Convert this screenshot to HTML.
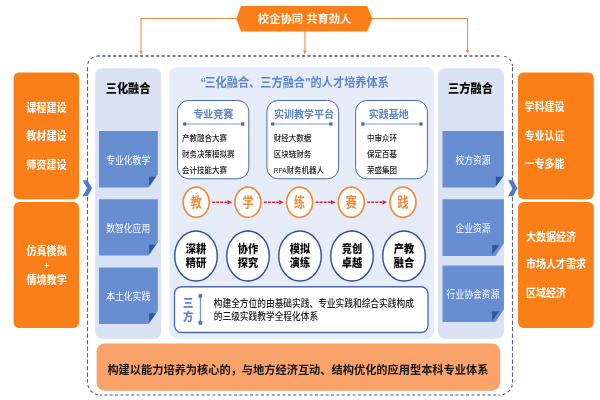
<!DOCTYPE html>
<html lang="zh-CN">
<head>
<meta charset="utf-8">
<title>校企协同 共育劲人</title>
<style>
html,body{margin:0;padding:0;background:#fff;}
body{width:600px;height:400px;overflow:hidden;}
svg{display:block;font-family:"Liberation Sans", "Noto Sans CJK SC", sans-serif;will-change:transform;}
</style>
</head>
<body>
<svg width="600" height="400" viewBox="0 0 600 400">
<rect width="600" height="400" fill="#ffffff"/>
<path d="M98.05 56 H501.95000000000005" fill="none" stroke="#4f5a8c" stroke-width="1.6" stroke-dasharray="3.1 2.3" stroke-dashoffset="1.2"/>
<path d="M100.05 395 H499.95000000000005" fill="none" stroke="#4f5a8c" stroke-width="1.1" stroke-dasharray="3.1 2.3" stroke-dashoffset="1.2"/>
<path d="M87.55 66 V382.5" fill="none" stroke="#4f5a8c" stroke-width="1.0" stroke-dasharray="4.4 2.1" stroke-dashoffset="-1"/>
<path d="M512.45 66 V382.5" fill="none" stroke="#4f5a8c" stroke-width="1.0" stroke-dasharray="4.4 2.1" stroke-dashoffset="-1"/>
<path d="M87.55 66 A10.5 10 0 0 1 98.05 56" fill="none" stroke="#4f5a8c" stroke-width="1.1" stroke-dasharray="2.9 2.9" stroke-dashoffset="-2.2"/>
<path d="M501.95000000000005 56 A10.5 10 0 0 1 512.45 66" fill="none" stroke="#4f5a8c" stroke-width="1.1" stroke-dasharray="2.9 2.9" stroke-dashoffset="-2.2"/>
<path d="M512.45 382.5 A12.5 12.5 0 0 1 499.95000000000005 395" fill="none" stroke="#4f5a8c" stroke-width="1.1" stroke-dasharray="2.9 2.9" stroke-dashoffset="-2.2"/>
<path d="M100.05 395 A12.5 12.5 0 0 1 87.55 382.5" fill="none" stroke="#4f5a8c" stroke-width="1.1" stroke-dasharray="2.9 2.9" stroke-dashoffset="-2.2"/>
<path d="M237 18.5 H140.4" fill="none" stroke="#ef8a44" stroke-width="1.2"/>
<path d="M141.0 18.5 V51.8" fill="none" stroke="#ef8a44" stroke-width="1.05"/>
<path d="M139.3 51.0 L141.0 54.8 L142.7 51.0 Z" fill="#ef8a44"/>
<path d="M372 18.5 H468.2" fill="none" stroke="#ef8a44" stroke-width="1.2"/>
<path d="M467.5 18.5 V50.8" fill="none" stroke="#ef8a44" stroke-width="1.05"/>
<path d="M465.8 50.0 L467.5 53.8 L469.2 50.0 Z" fill="#ef8a44"/>
<path d="M304.9 30 V51.6" fill="none" stroke="#ef8a44" stroke-width="1.05"/>
<path d="M303.2 50.800000000000004 L304.9 54.6 L306.59999999999997 50.800000000000004 Z" fill="#ef8a44"/>
<path d="M236.2 18.7 L241 6 H367.2 L372.6 18.7 L367.2 31.4 H241 Z" fill="#fa7f18"/>
<text transform="translate(304.6,18.9) scale(1,0.97)" y="3.96" font-size="11.3" fill="#fffaf4" font-weight="700" text-anchor="middle">校企协同 共育劲人</text>
<rect x="13.6" y="72.4" width="65.4" height="126.79999999999998" rx="5.5" ry="5.5" fill="#fa7f18"/>
<rect x="13.6" y="202.1" width="65.4" height="125.79999999999998" rx="5.5" ry="5.5" fill="#fa7f18"/>
<rect x="518" y="72.4" width="75.79999999999995" height="126.79999999999998" rx="5.5" ry="5.5" fill="#fa7f18"/>
<rect x="518" y="202.1" width="75.79999999999995" height="125.79999999999998" rx="5.5" ry="5.5" fill="#fa7f18"/>
<text transform="translate(46.4,108.0) scale(1,1.12)" y="3.53" font-size="10.1" fill="#fff" font-weight="700" text-anchor="middle">课程建设</text>
<text transform="translate(46.4,136.5) scale(1,1.12)" y="3.53" font-size="10.1" fill="#fff" font-weight="700" text-anchor="middle">教材建设</text>
<text transform="translate(46.4,165.0) scale(1,1.12)" y="3.53" font-size="10.1" fill="#fff" font-weight="700" text-anchor="middle">师资建设</text>
<text transform="translate(46.6,251.6) scale(1,1.1)" y="3.53" font-size="10.1" fill="#fff" font-weight="700" text-anchor="middle">仿真模拟</text>
<text transform="translate(46.6,266.1) scale(1,1.1)" y="2.59" font-size="7.4" fill="#fff" font-weight="700" text-anchor="middle">+</text>
<text transform="translate(46.6,279.9) scale(1,1.1)" y="3.53" font-size="10.1" fill="#fff" font-weight="700" text-anchor="middle">情境教学</text>
<text transform="translate(524.5,107.5) scale(1,1.1)" y="3.50" font-size="10" fill="#fff" font-weight="700" text-anchor="start">学科建设</text>
<text transform="translate(524.5,136) scale(1,1.1)" y="3.50" font-size="10" fill="#fff" font-weight="700" text-anchor="start">专业认证</text>
<text transform="translate(524.5,164.5) scale(1,1.1)" y="3.50" font-size="10" fill="#fff" font-weight="700" text-anchor="start">一专多能</text>
<text transform="translate(526,236.8) scale(1,1.1)" y="3.50" font-size="10" fill="#fff" font-weight="700" text-anchor="start">大数据经济</text>
<text transform="translate(526,264.6) scale(1,1.1)" y="3.50" font-size="10" fill="#fff" font-weight="700" text-anchor="start">市场人才需求</text>
<text transform="translate(526,293.3) scale(1,1.1)" y="3.50" font-size="10" fill="#fff" font-weight="700" text-anchor="start">区域经济</text>
<path d="M82.6 180.2 h5 l4.5 8 l-4.5 8 h-5 l4.5 -8 Z" fill="#4d7bc8"/>
<path d="M508 180.2 h5 l4.5 8 l-4.5 8 h-5 l4.5 -8 Z" fill="#4d7bc8"/>
<rect x="95.2" y="68.2" width="65.99999999999999" height="270.6" rx="7" ry="7" fill="#dae3f4"/>
<rect x="169.4" y="66.9" width="264.6" height="271.9" rx="8" ry="8" fill="#e6ecf8"/>
<rect x="438" y="68.2" width="66" height="270.6" rx="7" ry="7" fill="#dae3f4"/>
<text transform="translate(128.1,88.7) scale(1,1.09)" y="3.92" font-size="11.2" fill="#0a0a0a" font-weight="900" text-anchor="middle">三化融合</text>
<text transform="translate(470.5,88.7) scale(1,1.09)" y="3.92" font-size="11.2" fill="#0a0a0a" font-weight="900" text-anchor="middle">三方融合</text>
<path d="M99 131 H157.8 V174.6 L148.6 187.6 H99 Z" fill="#668ed1"/>
<path d="M149.1 176.8 H156.0 L149.1 186.5 Z" fill="#2d59a3"/>
<text transform="translate(128.20000000000002,160.20000000000002) scale(1,1.1)" y="3.08" font-size="8.8" fill="#f8faff" font-weight="400" text-anchor="middle">专业化教学</text>
<path d="M99 199.2 H157.8 V242.6 L148.6 255.6 H99 Z" fill="#668ed1"/>
<path d="M149.1 244.8 H156.0 L149.1 254.5 Z" fill="#2d59a3"/>
<text transform="translate(128.20000000000002,228.29999999999998) scale(1,1.1)" y="3.08" font-size="8.8" fill="#f8faff" font-weight="400" text-anchor="middle">数智化应用</text>
<path d="M99 267.5 H157.8 V311.0 L148.6 324 H99 Z" fill="#668ed1"/>
<path d="M149.1 313.2 H156.0 L149.1 322.9 Z" fill="#2d59a3"/>
<text transform="translate(128.20000000000002,296.65) scale(1,1.1)" y="3.08" font-size="8.8" fill="#f8faff" font-weight="400" text-anchor="middle">本土化实践</text>
<path d="M442.5 131 H503.9 V175.8 L495.1 187.6 H442.5 Z" fill="#668ed1"/>
<path d="M495.9 176.8 H502.9 L495.9 186.5 Z" fill="#2d59a3"/>
<text transform="translate(473.0,160.20000000000002) scale(1,1.1)" y="3.08" font-size="8.8" fill="#f8faff" font-weight="400" text-anchor="middle">校方资源</text>
<path d="M442.5 199.2 H503.9 V243.5 L495.4 255.9 H442.5 Z" fill="#668ed1"/>
<path d="M492.1 245.1 H499.3 L492.1 254.8 Z" fill="#2d59a3"/>
<text transform="translate(473.0,228.45000000000002) scale(1,1.1)" y="3.08" font-size="8.8" fill="#f8faff" font-weight="400" text-anchor="middle">企业资源</text>
<path d="M442.5 265.6 H503.9 V309.6 L495.4 322 H442.5 Z" fill="#668ed1"/>
<path d="M492.1 311.2 H499.3 L492.1 320.9 Z" fill="#2d59a3"/>
<text transform="translate(473.0,294.7) scale(1,1.1)" y="3.08" font-size="8.8" fill="#f8faff" font-weight="400" text-anchor="middle">行业协会资源</text>
<text transform="translate(200.6,82.6) scale(1,1.07)" y="3.92" font-size="11.2" fill="#5e85c8" font-weight="700" text-anchor="start">“<tspan dx="-1.8">三化融合、三方融合”的人才培养体系</tspan></text>
<rect x="177.5" y="100.5" width="71.30000000000001" height="78.25" rx="11" ry="11" fill="#fff" stroke="#4a68ad" stroke-width="1"/>
<text transform="translate(213.2,114.8) scale(1,1.05)" y="3.50" font-size="10" fill="#5e85c8" font-weight="700" text-anchor="middle">专业竞赛</text>
<path d="M184.1 124 H243.3" stroke="#7f9bd3" stroke-width="1.2"/>
<rect x="183.1" y="122.4" width="3.1" height="3.2" fill="#4368b6"/>
<rect x="241.2" y="122.4" width="3.1" height="3.2" fill="#4368b6"/>
<text transform="translate(182,138.2) scale(1,1.13)" y="2.62" font-size="7.5" fill="#1c1c1c" font-weight="500" text-anchor="start">产教融合大赛</text>
<text transform="translate(182,153.6) scale(1,1.13)" y="2.62" font-size="7.5" fill="#1c1c1c" font-weight="500" text-anchor="start">财务决策模拟赛</text>
<text transform="translate(182,169.6) scale(1,1.13)" y="2.62" font-size="7.5" fill="#1c1c1c" font-weight="500" text-anchor="start">会计技能大赛</text>
<rect x="266.9" y="100.5" width="71.70000000000005" height="78.25" rx="11" ry="11" fill="#fff" stroke="#4a68ad" stroke-width="1"/>
<text transform="translate(304,114.8) scale(1,1.05)" y="3.50" font-size="10" fill="#5e85c8" font-weight="700" text-anchor="middle">实训教学平台</text>
<path d="M272.1 124 H331.4" stroke="#7f9bd3" stroke-width="1.2"/>
<rect x="271.1" y="122.4" width="3.1" height="3.2" fill="#4368b6"/>
<rect x="329.3" y="122.4" width="3.1" height="3.2" fill="#4368b6"/>
<text transform="translate(273.75,138.2) scale(1,1.13)" y="2.62" font-size="7.5" fill="#1c1c1c" font-weight="500" text-anchor="start">财经大数据</text>
<text transform="translate(273.75,153.6) scale(1,1.13)" y="2.62" font-size="7.5" fill="#1c1c1c" font-weight="500" text-anchor="start">区块链财务</text>
<text transform="translate(273.75,169.6) scale(1,1.13)" y="2.62" font-size="7.5" fill="#1c1c1c" font-weight="500" text-anchor="start"><tspan font-size="6.5">RPA</tspan>财务机器人</text>
<rect x="355.6" y="100.5" width="71.79999999999995" height="78.25" rx="11" ry="11" fill="#fff" stroke="#4a68ad" stroke-width="1"/>
<text transform="translate(388.75,114.8) scale(1,1.05)" y="3.50" font-size="10" fill="#5e85c8" font-weight="700" text-anchor="middle">实践基地</text>
<path d="M362.3 124 H421.6" stroke="#7f9bd3" stroke-width="1.2"/>
<rect x="361.3" y="122.4" width="3.1" height="3.2" fill="#4368b6"/>
<rect x="419.5" y="122.4" width="3.1" height="3.2" fill="#4368b6"/>
<text transform="translate(367,138.2) scale(1,1.13)" y="2.62" font-size="7.5" fill="#1c1c1c" font-weight="500" text-anchor="start">中审众环</text>
<text transform="translate(367,153.6) scale(1,1.13)" y="2.62" font-size="7.5" fill="#1c1c1c" font-weight="500" text-anchor="start">保定百基</text>
<text transform="translate(367,169.6) scale(1,1.13)" y="2.62" font-size="7.5" fill="#1c1c1c" font-weight="500" text-anchor="start">荣盛集团</text>
<ellipse cx="196.2" cy="202.3" rx="13" ry="15.1" fill="#fff" stroke="#f08c40" stroke-width="1.7"/>
<text transform="translate(196.2,202.5) scale(1,1.25)" y="3.85" font-size="11" fill="#ef8a3c" font-weight="700" text-anchor="middle">教</text>
<ellipse cx="247.9" cy="202.3" rx="13" ry="15.1" fill="#fff" stroke="#f08c40" stroke-width="1.7"/>
<text transform="translate(247.9,202.5) scale(1,1.25)" y="3.85" font-size="11" fill="#ef8a3c" font-weight="700" text-anchor="middle">学</text>
<ellipse cx="299.6" cy="202.3" rx="13" ry="15.1" fill="#fff" stroke="#f08c40" stroke-width="1.7"/>
<text transform="translate(299.6,202.5) scale(1,1.25)" y="3.85" font-size="11" fill="#ef8a3c" font-weight="700" text-anchor="middle">练</text>
<ellipse cx="351.3" cy="202.3" rx="13" ry="15.1" fill="#fff" stroke="#f08c40" stroke-width="1.7"/>
<text transform="translate(351.3,202.5) scale(1,1.25)" y="3.85" font-size="11" fill="#ef8a3c" font-weight="700" text-anchor="middle">赛</text>
<ellipse cx="403" cy="202.3" rx="13" ry="15.1" fill="#fff" stroke="#f08c40" stroke-width="1.7"/>
<text transform="translate(403,202.5) scale(1,1.25)" y="3.85" font-size="11" fill="#ef8a3c" font-weight="700" text-anchor="middle">践</text>
<path d="M212.2 202.3 H227.7" stroke="#d92436" stroke-width="1.4" stroke-dasharray="2.9 1.15"/>
<path d="M227.5 200 L231.9 202.3 L227.5 204.6 Z" fill="#d92436"/>
<path d="M263.9 202.3 H279.4" stroke="#d92436" stroke-width="1.4" stroke-dasharray="2.9 1.15"/>
<path d="M279.2 200 L283.6 202.3 L279.2 204.6 Z" fill="#d92436"/>
<path d="M315.6 202.3 H331.1" stroke="#d92436" stroke-width="1.4" stroke-dasharray="2.9 1.15"/>
<path d="M330.9 200 L335.3 202.3 L330.9 204.6 Z" fill="#d92436"/>
<path d="M367.3 202.3 H382.8" stroke="#d92436" stroke-width="1.4" stroke-dasharray="2.9 1.15"/>
<path d="M382.6 200 L387.0 202.3 L382.6 204.6 Z" fill="#d92436"/>
<ellipse cx="196" cy="256" rx="21.3" ry="25" fill="#fff" stroke="#2f4f9a" stroke-width="1.4"/>
<text transform="translate(196,248.9) scale(1,1.15)" y="3.57" font-size="10.2" fill="#0c0c0c" font-weight="900" text-anchor="middle">深耕</text>
<text transform="translate(196,262.7) scale(1,1.15)" y="3.57" font-size="10.2" fill="#0c0c0c" font-weight="900" text-anchor="middle">精研</text>
<ellipse cx="248" cy="256" rx="21.3" ry="25" fill="#fff" stroke="#2f4f9a" stroke-width="1.4"/>
<text transform="translate(248,248.9) scale(1,1.15)" y="3.57" font-size="10.2" fill="#0c0c0c" font-weight="900" text-anchor="middle">协作</text>
<text transform="translate(248,262.7) scale(1,1.15)" y="3.57" font-size="10.2" fill="#0c0c0c" font-weight="900" text-anchor="middle">探究</text>
<ellipse cx="300" cy="256" rx="21.3" ry="25" fill="#fff" stroke="#2f4f9a" stroke-width="1.4"/>
<text transform="translate(300,248.9) scale(1,1.15)" y="3.57" font-size="10.2" fill="#0c0c0c" font-weight="900" text-anchor="middle">模拟</text>
<text transform="translate(300,262.7) scale(1,1.15)" y="3.57" font-size="10.2" fill="#0c0c0c" font-weight="900" text-anchor="middle">演练</text>
<ellipse cx="352" cy="256" rx="21.3" ry="25" fill="#fff" stroke="#2f4f9a" stroke-width="1.4"/>
<text transform="translate(352,248.9) scale(1,1.15)" y="3.57" font-size="10.2" fill="#0c0c0c" font-weight="900" text-anchor="middle">竞创</text>
<text transform="translate(352,262.7) scale(1,1.15)" y="3.57" font-size="10.2" fill="#0c0c0c" font-weight="900" text-anchor="middle">卓越</text>
<ellipse cx="404" cy="256" rx="21.3" ry="25" fill="#fff" stroke="#2f4f9a" stroke-width="1.4"/>
<text transform="translate(404,248.9) scale(1,1.15)" y="3.57" font-size="10.2" fill="#0c0c0c" font-weight="900" text-anchor="middle">产教</text>
<text transform="translate(404,262.7) scale(1,1.15)" y="3.57" font-size="10.2" fill="#0c0c0c" font-weight="900" text-anchor="middle">融合</text>
<rect x="174.5" y="286.75" width="253.5" height="45.75" rx="7" ry="7" fill="#fff" stroke="#4a68ad" stroke-width="1.3"/>
<text transform="translate(188.1,302.9) scale(1,1.1)" y="3.64" font-size="10.4" fill="#5f86cb" font-weight="900" text-anchor="middle">三</text>
<text transform="translate(188.1,317.3) scale(1,1.1)" y="3.64" font-size="10.4" fill="#5f86cb" font-weight="900" text-anchor="middle">方</text>
<path d="M200.4 296 V322.5" stroke="#6b92d8" stroke-width="1.2"/>
<ellipse cx="200.4" cy="296" rx="2.1" ry="2.3" fill="#4a75cb"/>
<ellipse cx="200.4" cy="322.8" rx="2.1" ry="2.3" fill="#4a75cb"/>
<text transform="translate(213.75,303) scale(1,1.15)" y="3.05" font-size="8.72" fill="#1c1c1c" font-weight="500" text-anchor="start">构建全方位的由基础实践、专业实践和综合实践构成</text>
<text transform="translate(213.75,316) scale(1,1.15)" y="3.05" font-size="8.72" fill="#1c1c1c" font-weight="500" text-anchor="start">的三级实践教学全程化体系</text>
<rect x="96.6" y="343.4" width="403.6" height="47.30000000000001" rx="8" ry="8" fill="#f9a26a"/>
<text transform="translate(297.9,369.5) scale(1,1.03)" y="3.93" font-size="11.23" fill="#161616" font-weight="700" text-anchor="middle">构建以能力培养为核心的，与地方经济互动、结构优化的应用型本科专业体系</text>
</svg>
</body>
</html>
